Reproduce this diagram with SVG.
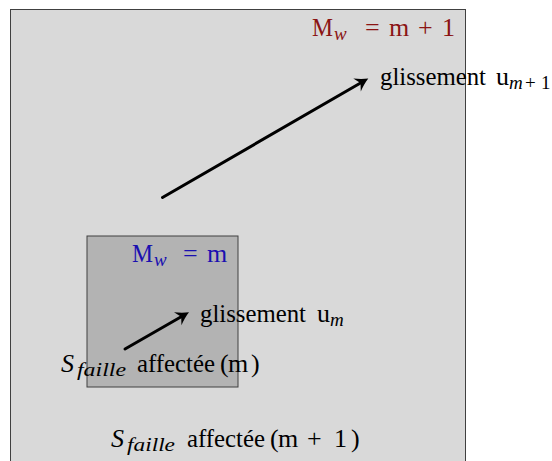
<svg xmlns="http://www.w3.org/2000/svg" width="552" height="461" viewBox="0 0 552 461">
<style>
text{font-family:'Liberation Serif','DejaVu Serif','Times New Roman',serif;font-size:26px;fill:#000}
.it{font-style:italic}
.sub{font-size:19px}
.red{fill:#8b1414}
.blue{fill:#1a0fb0}
.conn{stroke:#000;stroke-width:3;fill:none;stroke-linecap:round}
</style>
<defs>
<marker id="ah" markerUnits="userSpaceOnUse" markerWidth="20" markerHeight="20" viewBox="-12 -10 20 20" refX="0" refY="0" orient="auto">
<path d="M6,0 C2,-1.6 -3,-4.5 -7,-7.5 L-3,0 L-7,7.5 C-3,4.5 2,1.6 6,0 Z" fill="#000"/>
</marker>
</defs>
<g id="big">
<rect x="10.5" y="9.5" width="455" height="455" fill="#d9d9d9" stroke="#404040" stroke-width="1"/>
</g>
<g id="small">
<rect x="87" y="236" width="151" height="151" fill="#b3b3b3" stroke="#404040" stroke-width="1"/>
</g>
<g id="connectors">
<line class="conn" x1="162.5" y1="197.5" x2="363.1" y2="81.5" marker-end="url(#ah)"/>
<line class="conn" x1="125" y1="349" x2="183.8" y2="315.3" marker-end="url(#ah)"/>
</g>
<g id="label-big-mw">
<text class="red" x="312" y="36" textLength="21" lengthAdjust="spacingAndGlyphs">M</text>
<text class="red it sub" x="334" y="40">w</text>
<text class="red" x="365 389 418 442" y="36">=m+1</text>
</g>
<g id="label-big-slip">
<text x="380" y="85" textLength="106" lengthAdjust="spacingAndGlyphs">glissement</text>
<text x="496" y="85">u</text>
<text class="sub" x="509 525 541" y="89"><tspan class="it">m</tspan>+1</text>
</g>
<g id="label-small-mw">
<text class="blue" x="132" y="262" textLength="21" lengthAdjust="spacingAndGlyphs">M</text>
<text class="blue it sub" x="154" y="266">w</text>
<text class="blue" x="183 207" y="262">=m</text>
</g>
<g id="label-small-slip">
<text x="200" y="322" textLength="106" lengthAdjust="spacingAndGlyphs">glissement</text>
<text x="317" y="322">u</text>
<text class="it sub" x="330" y="326">m</text>
</g>
<g id="label-small-surface">
<text class="it" x="61" y="371.5">S</text>
<text class="it sub" x="77" y="375.5" textLength="49" lengthAdjust="spacingAndGlyphs">faille</text>
<text x="137" y="371.5" textLength="78" lengthAdjust="spacingAndGlyphs">affectée</text>
<text x="220 228 251" y="371.5">(m)</text>
</g>
<g id="label-big-surface">
<text class="it" x="111" y="447">S</text>
<text class="it sub" x="127" y="451" textLength="48" lengthAdjust="spacingAndGlyphs">faille</text>
<text x="187" y="447" textLength="78" lengthAdjust="spacingAndGlyphs">affectée</text>
<text x="270 278 307 334 351" y="447">(m+1)</text>
</g>
</svg>
